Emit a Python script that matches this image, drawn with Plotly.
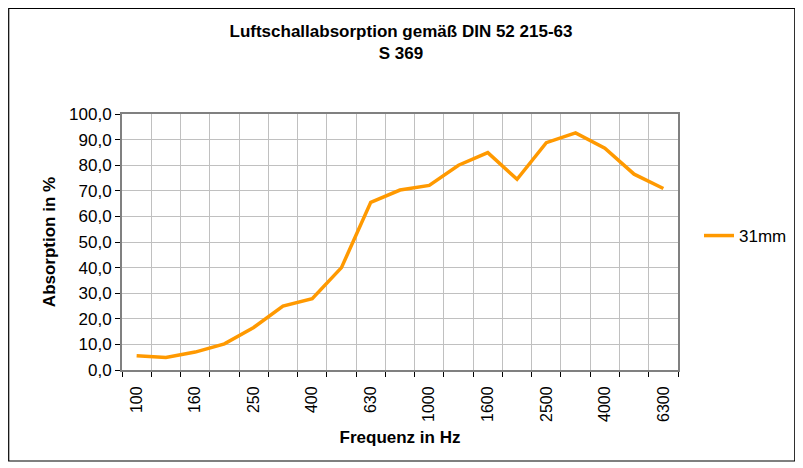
import plotly.graph_objects as go

frequencies = ["100", "125", "160", "200", "250", "315", "400", "500", "630", "800",
               "1000", "1250", "1600", "2000", "2500", "3150", "4000", "5000", "6300"]
absorption_31mm = [5.6, 4.9, 7.0, 10.2, 16.6, 25.0, 27.9, 40.0, 65.5, 70.3,
                   72.1, 80.0, 84.9, 74.5, 88.8, 92.6, 86.6, 76.5, 70.9]
shown_labels = ["100", "160", "250", "400", "630", "1000", "1600", "2500", "4000", "6300"]
series_name = "31mm"

FONT = "Liberation Sans, Arial, sans-serif"

# figure is placed at (8,8) in the page, so it is sized 795x460
W, H = 795, 460
L, R, T, B = 114, 671, 106, 362  # plot area in figure px
PW, PH = R - L, B - T

fig = go.Figure()
fig.add_trace(go.Scatter(
    x=frequencies, y=absorption_31mm, mode="lines", name=series_name,
    line=dict(color="#FF9900", width=3.5),
))

ticktext = [f if f in shown_labels else "" for f in frequencies]

fig.update_layout(
    width=W, height=H,
    margin=dict(l=L, r=W - R, t=T, b=H - B),
    paper_bgcolor="white", plot_bgcolor="white",
    separators=",.",
    font=dict(family=FONT, size=17, color="black"),
    title=dict(
        text="<b>Luftschallabsorption gemäß DIN 52 215-63</b><br><b>S 369</b>",
        x=(401 - 8) / W, xanchor="center", y=1 - 29 / H, yanchor="middle",
        font=dict(family=FONT, size=17, color="black"),
    ),
    showlegend=True,
    legend=dict(x=(691 - L) / PW, xanchor="left", y=(B - 228) / PH, yanchor="middle",
                font=dict(family=FONT, size=17, color="black"),
                bgcolor="rgba(0,0,0,0)"),
    xaxis=dict(
        type="category", categoryorder="array", categoryarray=frequencies,
        tickmode="array", tickvals=frequencies, ticktext=ticktext,
        tickson="boundaries", ticks="outside", ticklen=5, tickcolor="black",
        tickangle=-90, tickfont=dict(family=FONT, size=16, color="black"),
        ticklabelstandoff=8,
        showgrid=True, gridcolor="#C0C0C0", gridwidth=1.3,
        showline=True, linecolor="#808080", linewidth=2, mirror=True,
        range=[-0.5, len(frequencies) - 0.5],
        title=dict(text="<b>Frequenz in Hz</b>", font=dict(family=FONT, size=17, color="black"), standoff=10),
    ),
    yaxis=dict(
        range=[0, 100], tickmode="linear", tick0=0, dtick=10, tickformat=".1f",
        ticks="outside", ticklen=5, tickcolor="black",
        tickfont=dict(family=FONT, size=17, color="black"),
        showgrid=True, gridcolor="#C0C0C0", gridwidth=1.3,
        showline=True, linecolor="#808080", linewidth=2, mirror=True,
        zeroline=False,
        title=dict(text="<b>Absorption in %</b>", font=dict(family=FONT, size=17, color="black"), standoff=9),
    ),
    shapes=[dict(type="rect", xref="paper", yref="paper",
                 x0=(0.5 - L) / PW, x1=(788 - L) / PW,
                 y0=(B - 453) / PH, y1=(B - 0.5) / PH,
                 line=dict(color="black", width=1.2), fillcolor="rgba(0,0,0,0)", layer="below")],
)

fig.write_html("out.html")
